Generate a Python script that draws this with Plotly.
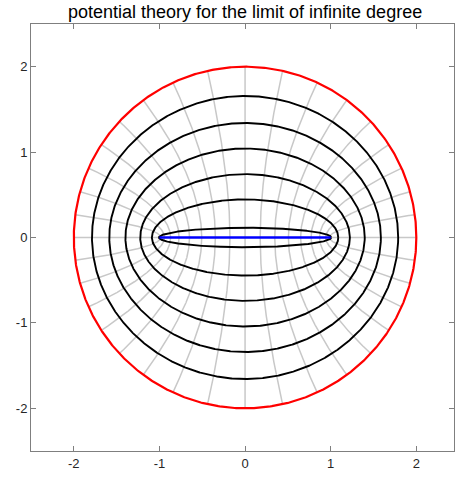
import numpy as np
import plotly.graph_objects as go

# ---------------- data ----------------
outer_radius = 2.0                     # red circle |z| = 2
segment_x = [-1.0, 1.0]                # blue segment [-1, 1]
level_y = [0.114, 0.446, 0.742, 1.042, 1.341, 1.657]  # black level curves: crossings of the imaginary axis
n_field_lines = 36                     # grey field lines (equal flux)
x_ticks = [-2, -1, 0, 1, 2]
y_ticks = [-2, -1, 0, 1, 2]
title_text = "potential theory for the limit of infinite degree"

# ---------------- condenser potential: [-1,1] vs |z|=2 ----------------
def jinv(z):
    z = np.asarray(z, dtype=complex)
    s = np.sqrt(z - 1) * np.sqrt(z + 1)
    w = z + s
    return np.where(np.abs(w) < 1, z - s, w)

K = 40
R0 = 4.0
kk = np.arange(1, K + 1)
phi = np.linspace(0, 2 * np.pi, 1200, endpoint=False)
zb = jinv(outer_radius * np.exp(1j * phi))

def basis(zeta):
    zeta = np.asarray(zeta, dtype=complex)[..., None]
    return (zeta / R0) ** (2 * kk) - (1 / (zeta * R0)) ** (2 * kk)

A = np.column_stack([np.log(np.abs(zb)), np.real(basis(zb))])
coef, *_ = np.linalg.lstsq(A, np.ones(len(zb)), rcond=None)
a0, ck = coef[0], coef[1:]

def u_of(rho, th):
    zeta = rho * np.exp(1j * th)
    return a0 * np.log(rho) + np.real(basis(zeta) @ ck)

def v_of(rho, th):
    zeta = rho * np.exp(1j * th)
    return a0 * th + np.imag(basis(zeta) @ ck)

def jouk(zeta):
    return (zeta + 1 / zeta) / 2

def level_curve(c, n=1441):
    th = np.linspace(0, 2 * np.pi, n)
    lo = np.ones(n)
    hi = np.full(n, 4.3)
    for _ in range(55):
        mid = 0.5 * (lo + hi)
        big = u_of(mid, th) > c
        hi = np.where(big, mid, hi)
        lo = np.where(big, lo, mid)
    return jouk(0.5 * (lo + hi) * np.exp(1j * th))

def field_line(d, n=400):
    s = np.linspace(0, 1, n)
    rho = 1 + 3.3 * s ** 1.6
    lo = np.zeros(n)
    hi = np.full(n, 2 * np.pi)
    for _ in range(55):
        mid = 0.5 * (lo + hi)
        big = v_of(rho, mid) > d
        hi = np.where(big, mid, hi)
        lo = np.where(big, lo, mid)
    z = jouk(rho * np.exp(1j * 0.5 * (lo + hi)))
    out = np.abs(z) > outer_radius
    if out.any():
        i = np.argmax(out)
        za, zc = z[i - 1], z[i]
        ra, rc = abs(za), abs(zc)
        t = (outer_radius - ra) / (rc - ra)
        z = np.append(z[:i], za + t * (zc - za))
    return z

fig = go.Figure()

# grey field lines
for j in range(n_field_lines):
    d = a0 * 2 * np.pi * j / n_field_lines
    z = field_line(d)
    fig.add_trace(go.Scatter(x=z.real, y=z.imag, mode="lines",
                             line=dict(color="#c8c8c8", width=1.5),
                             hoverinfo="skip", showlegend=False))

# black level curves
levels = [float(u_of(np.abs(jinv(1j * y)), np.angle(jinv(1j * y)))) for y in level_y]
for c in levels:
    z = level_curve(c)
    fig.add_trace(go.Scatter(x=z.real, y=z.imag, mode="lines",
                             line=dict(color="black", width=1.9),
                             hoverinfo="skip", showlegend=False))

# red circle
ph = np.linspace(0, 2 * np.pi, 721)
fig.add_trace(go.Scatter(x=outer_radius * np.cos(ph), y=outer_radius * np.sin(ph), mode="lines",
                         line=dict(color="#ff0000", width=2.2),
                         hoverinfo="skip", showlegend=False))

# blue segment
fig.add_trace(go.Scatter(x=segment_x, y=[0, 0], mode="lines",
                         line=dict(color="#0000ff", width=2.6),
                         hoverinfo="skip", showlegend=False))

axis_common = dict(showgrid=False, zeroline=False, showline=True, linecolor="#7f7f7f", linewidth=1,
                   mirror="allticks", ticks="inside", ticklen=5, tickcolor="#7f7f7f",
                   tickfont=dict(family="Liberation Sans, Arial, sans-serif", size=13, color="#262626"))

fig.update_layout(
    width=455, height=480,
    margin=dict(l=31, r=1, t=24, b=29),
    paper_bgcolor="white", plot_bgcolor="white",
    title=dict(text=title_text, x=(0 + 2.5) / 4.94, xref="paper", xanchor="center",
               y=1 - 11.5 / 480, yref="container", yanchor="middle",
               font=dict(family="Liberation Sans, Arial, sans-serif", size=18, color="black")),
    xaxis=dict(range=[-2.5, 2.44], tickvals=x_ticks, ticktext=[str(t) for t in x_ticks], **axis_common),
    yaxis=dict(range=[-2.5, 2.5], tickvals=y_ticks, ticktext=[str(t) for t in y_ticks], **axis_common),
)

fig.write_html("out.html")
